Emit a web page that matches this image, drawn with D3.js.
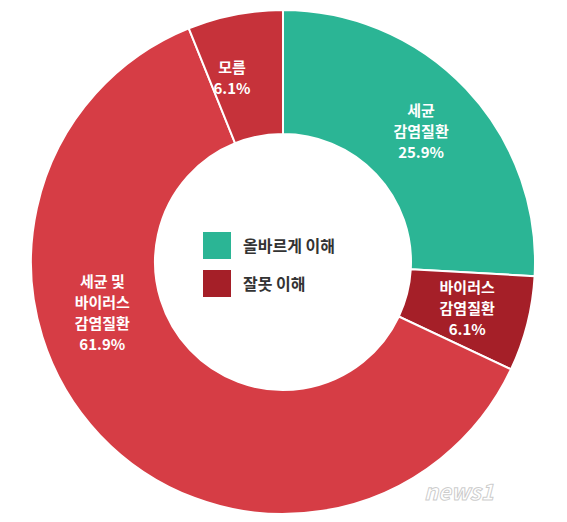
<!DOCTYPE html><html><head><meta charset="utf-8">
<script src="https://cdn.jsdelivr.net/npm/d3@7"></script>
<style>body{margin:0;background:#fff}</style></head><body><svg id="c" width="567" height="522"></svg>
<script>
const categories=["세균\n감염질환","바이러스\n감염질환","세균 및\n바이러스\n감염질환","모름"];
const values=[25.9,6.1,61.9,6.1];
const colors=["#2bb595","#a51f28","#d63d45","#c6323a"];
const legendLabels=["올바르게 이해","잘못 이해"];
const legendColors=["#2bb595","#a51f28"];
const svg=d3.select("#c"),cx=283,cy=262,R=252,r=128;
const g=svg.append("g").attr("transform",`translate(${cx},${cy})`);
const pie=d3.pie().sort(null).value(d=>d)(values);
const arc=d3.arc().innerRadius(r).outerRadius(R);
g.selectAll("path").data(pie).join("path").attr("d",arc).attr("fill",(d,i)=>colors[i]).attr("stroke","#fff").attr("stroke-width",2);
const font="'Noto Sans CJK KR','Noto Sans',sans-serif";
pie.forEach((d,i)=>{
  let a=(d.startAngle+d.endAngle)/2; if(i===2)a=254*Math.PI/180; if(i===3)a-=0.08;
  const lr=i===2?188:190;
  const x=lr*Math.sin(a),y=-lr*Math.cos(a);
  const lines=categories[i].split("\n").concat([values[i].toFixed(1)+"%"]);
  const t=g.append("text").attr("x",x).attr("text-anchor","middle").attr("fill","#fff").attr("font-family",font).attr("font-weight","bold").attr("font-size",15);
  lines.forEach((l,j)=>t.append("tspan").attr("x",x).attr("y",y+(j-(lines.length-1)/2)*21+5).text(l));
});
legendLabels.forEach((l,i)=>{
  svg.append("rect").attr("x",203).attr("y",232+i*38).attr("width",28).attr("height",27).attr("fill",legendColors[i]);
  svg.append("text").attr("x",243).attr("y",252+i*38).attr("font-family",font).attr("font-weight","bold").attr("font-size",16).attr("fill","#333").text(l);
});
svg.append("text").attr("x",424).attr("y",500).attr("font-family",font).attr("font-style","italic").attr("font-weight","bold").attr("font-size",22).attr("fill","#fff").attr("fill-opacity",0.6).attr("stroke","#999").attr("stroke-opacity",0.5).text("news1");
</script></body></html>
